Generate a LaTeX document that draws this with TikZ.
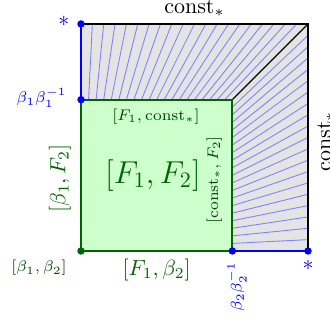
\documentclass[tikz,border=0pt]{standalone}
\usepackage{amsmath}
\definecolor{dgreen}{RGB}{0,100,0}
\definecolor{lgreen}{RGB}{204,255,204}
\definecolor{lgray}{RGB}{228,228,228}
\definecolor{hatch}{RGB}{130,130,255}
\tikzset{
  hatchline/.style={draw=hatch, line width=0.4pt},
  blueedge/.style={draw=blue, line width=1.2pt},
  greenedge/.style={draw=dgreen, line width=1pt},
  blackedge/.style={draw=black, line width=0.6pt},
  bluedot/.style={fill=blue, circle, inner sep=0pt, minimum size=3.4pt},
  greendot/.style={fill=dgreen, circle, inner sep=0pt, minimum size=3.4pt},
  biglab/.style={text=dgreen, inner sep=0pt},
  smalllab/.style={text=dgreen!70!black, inner sep=0pt, font=\scriptsize},
  bluelab/.style={text=blue, inner sep=0pt},
}
\begin{document}
\begin{tikzpicture}[x=1.209cm, y=1.209cm]
\useasboundingbox (-1.0705,-0.912) rectangle (3.2906,3.317);
% corners
\coordinate (O) at (0,0);
\coordinate (A) at (2,0);
\coordinate (B) at (3,0);
\coordinate (C) at (3,3);
\coordinate (D) at (0,3);
\coordinate (E) at (0,2);
\coordinate (F) at (2,2);
% gray region
\fill[lgray] (O) rectangle (C);
% hatch lines: rays from origin
\foreach \k in {1,...,19}{
  \draw[hatchline] ({2*\k/20},2) -- ({3*\k/20},3);
  \draw[hatchline] (2,{2*\k/20}) -- (3,{3*\k/20});
}
% green square
\fill[lgreen] (O) rectangle (F);
% edges
\draw[blackedge] (D) -- (C) -- (B);
\draw[blackedge] (F) -- (C);
\draw[greenedge] (O) -- (A) -- (F) -- (E) -- (O);
\draw[blueedge] (E) -- (D);
\draw[blueedge] (A) -- (B);
% dots
\node[bluedot] (dD) at (D) {};
\node[bluedot] (dE) at (E) {};
\node[bluedot] (dA) at (A) {};
\node[bluedot] (dB) at (B) {};
\node[greendot] (dO) at (O) {};
% labels
\node[inner sep=0pt] (ltop) at (1.5,3.205) {$\mathrm{const}_*$};
\node[inner sep=0pt, rotate=90] (lright) at (3.235,1.45) {$\mathrm{const}_*$};
\node[bluelab] (ls1) at (-0.225,3.04) {$*$};
\node[bluelab] (ls2) at (3.0,-0.19) {$*$};
\node[bluelab, font=\scriptsize] (lbb1) at (-0.522,2.02) {$\beta_1\beta_1^{-1}$};
\node[bluelab, font=\scriptsize, rotate=90, anchor=east] (lbb2) at (2.06,-0.14) {$\beta_2\beta_2^{-1}$};
\node[biglab, rotate=90] (lbF) at (-0.28,0.96) {$[\beta_1,F_2]$};
\node[biglab] (lFb) at (1.0,-0.25) {$[F_1,\beta_2]$};
\node[smalllab] (lbb) at (-0.555,-0.225) {$[\beta_1,\beta_2]$};
\node[biglab, font=\Large] (lFF) at (0.95,1.0) {$[F_1,F_2]$};
\node[smalllab] (lFc) at (0.99,1.776) {$[F_1,\mathrm{const}_*]$};
\node[smalllab, rotate=90] (lcF) at (1.76,0.94) {$[\mathrm{const}_*,F_2]$};
\end{tikzpicture}
\end{document}
